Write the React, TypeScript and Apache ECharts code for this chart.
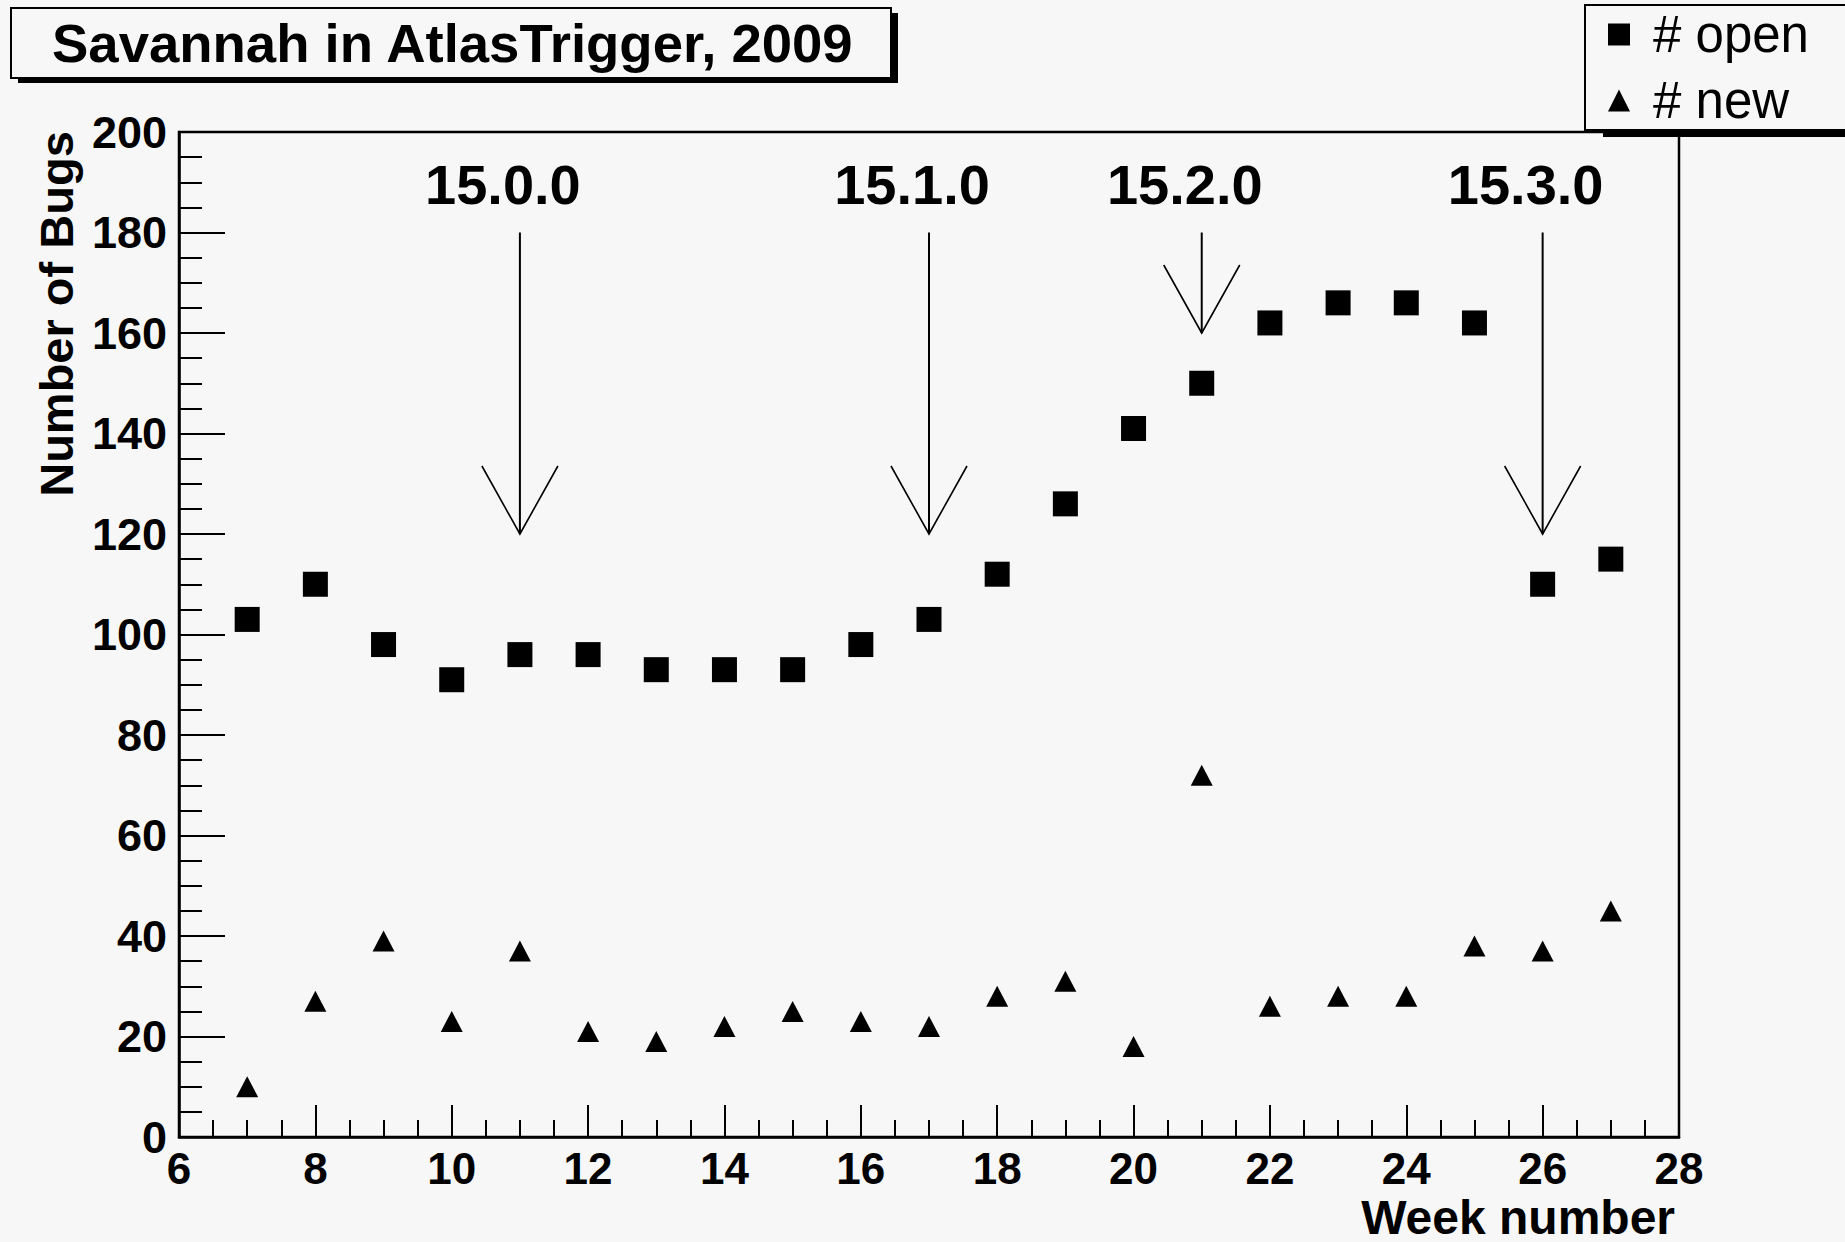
import React, { useEffect, useRef } from "react";
import * as echarts from "echarts";

const weeks = [7, 8, 9, 10, 11, 12, 13, 14, 15, 16, 17, 18, 19, 20, 21, 22, 23, 24, 25, 26, 27];
const openBugs = [103, 110, 98, 91, 96, 96, 93, 93, 93, 98, 103, 112, 126, 141, 150, 162, 166, 166, 162, 110, 115];
const newBugs = [10, 27, 39, 23, 37, 21, 19, 22, 25, 23, 22, 28, 31, 18, 72, 26, 28, 28, 38, 37, 45];

const releaseWeeks = [11, 17, 21, 26];
const releaseTips = [120, 120, 160, 120];
const releaseTails = [180, 180, 180, 180];
const releaseLabels = ["15.0.0", "15.1.0", "15.2.0", "15.3.0"];

const xMin = 6, xMax = 28, xStep = 2;
const yMin = 0, yMax = 200, yStep = 20;

const FONT = '"Liberation Sans", Arial, Helvetica, sans-serif';
const BG = "#f7f7f7";

export default function App() {
  const ref = useRef<HTMLDivElement>(null);
  useEffect(() => {
    if (!ref.current) return;
    const chart = echarts.init(ref.current, null, { renderer: "svg" });
    const option: any = {
      animation: false,
      backgroundColor: BG,
      title: {
        text: "Savannah in AtlasTrigger, 2009",
        left: 52,
        top: 16,
        padding: 0,
        textStyle: { fontFamily: FONT, fontWeight: "bold", fontSize: 54.5, color: "#000" },
      },
      legend: {
        orient: "vertical",
        left: 1608,
        top: 9,
        padding: 0,
        itemWidth: 22,
        itemHeight: 22,
        itemGap: 15,
        selectedMode: false,
        data: [
          { name: "# open", icon: "rect" },
          { name: "# new", icon: "triangle" },
        ],
        textStyle: { fontFamily: FONT, fontSize: 51, color: "#000", padding: [0, 0, 0, 18] },
      },
      grid: {
        left: 179,
        top: 132,
        right: 166,
        bottom: 105,
        show: true,
        borderColor: "#000",
        borderWidth: 2.5,
        backgroundColor: "transparent",
        containLabel: false,
      },
      xAxis: {
        type: "value",
        min: xMin,
        max: xMax,
        interval: xStep,
        axisLine: { onZero: false, lineStyle: { color: "#000", width: 2.5 } },
        axisTick: { inside: true, length: 32, lineStyle: { color: "#000", width: 2 } },
        minorTick: { show: true, splitNumber: 4, length: 17, lineStyle: { color: "#000", width: 2 } },
        splitLine: { show: false },
        axisLabel: { margin: 9, fontFamily: FONT, fontWeight: "bold", fontSize: 44, color: "#000" },
      },
      yAxis: {
        type: "value",
        min: yMin,
        max: yMax,
        interval: yStep,
        axisLine: { show: true, lineStyle: { color: "#000", width: 2.5 } },
        axisTick: { inside: true, length: 46, lineStyle: { color: "#000", width: 2 } },
        minorTick: { show: true, splitNumber: 4, length: 23, lineStyle: { color: "#000", width: 2 } },
        splitLine: { show: false },
        axisLabel: { margin: 12, fontFamily: FONT, fontWeight: "bold", fontSize: 45, color: "#000" },
      },
      graphic: [
        { type: "rect", z: 0, shape: { x: 18, y: 13, width: 880, height: 70 }, style: { fill: "#000" } },
        { type: "rect", z: 0, shape: { x: 11, y: 8, width: 880, height: 70 }, style: { fill: BG, stroke: "#000", lineWidth: 2 } },
        { type: "rect", z: 0, shape: { x: 1603, y: 12, width: 300, height: 125 }, style: { fill: "#000" } },
        { type: "rect", z: 0, shape: { x: 1585, y: 5, width: 300, height: 125 }, style: { fill: BG, stroke: "#000", lineWidth: 2 } },
        {
          type: "text",
          z: 0,
          x: 56,
          y: 314,
          rotation: Math.PI / 2,
          style: {
            text: "Number of Bugs",
            fill: "#000",
            fontFamily: FONT,
            fontWeight: "bold",
            fontSize: 47,
            align: "center",
            verticalAlign: "middle",
          },
        },
        {
          type: "text",
          z: 0,
          x: 1675,
          y: 1217,
          style: {
            text: "Week number",
            fill: "#000",
            fontFamily: FONT,
            fontWeight: "bold",
            fontSize: 48,
            align: "right",
            verticalAlign: "middle",
          },
        },
      ],
      series: [
        {
          name: "# open",
          type: "scatter",
          symbol: "rect",
          symbolSize: 25,
          itemStyle: { color: "#000", opacity: 1 },
          data: weeks.map((w, i) => [w, openBugs[i]]),
          z: 3,
        },
        {
          name: "# new",
          type: "scatter",
          symbol: "triangle",
          symbolSize: [22, 21],
          itemStyle: { color: "#000", opacity: 1 },
          data: weeks.map((w, i) => [w, newBugs[i]]),
          z: 3,
        },
        {
          name: "releases",
          type: "custom",
          silent: true,
          clip: false,
          z: 4,
          data: releaseWeeks.map((w, i) => [w, releaseTips[i], releaseTails[i]]),
          renderItem: (params: any, api: any) => {
            const x = api.value(0);
            const pTip = api.coord([x, api.value(1)]);
            const pTail = api.coord([x, api.value(2)]);
            const label = releaseLabels[params.dataIndex];
            return {
              type: "group",
              children: [
                {
                  type: "line",
                  shape: { x1: pTail[0], y1: pTail[1], x2: pTip[0], y2: pTip[1] },
                  style: { stroke: "#000", lineWidth: 2 },
                },
                {
                  type: "polyline",
                  shape: {
                    points: [
                      [pTip[0] - 38, pTip[1] - 68],
                      [pTip[0], pTip[1]],
                      [pTip[0] + 38, pTip[1] - 68],
                    ],
                  },
                  style: { stroke: "#000", fill: "none", lineWidth: 1.6 },
                },
                {
                  type: "text",
                  x: pTail[0] - 17,
                  y: pTail[1] - 48,
                  style: {
                    text: label,
                    fill: "#000",
                    fontFamily: FONT,
                    fontWeight: "bold",
                    fontSize: 56,
                    align: "center",
                    verticalAlign: "middle",
                  },
                },
              ],
            };
          },
        },
      ],
    };
    chart.setOption(option);
    return () => chart.dispose();
  }, []);
  return (
    <div
      ref={ref}
      style={{ position: "absolute", left: 0, top: 0, width: 1845, height: 1242 }}
    />
  );
}
